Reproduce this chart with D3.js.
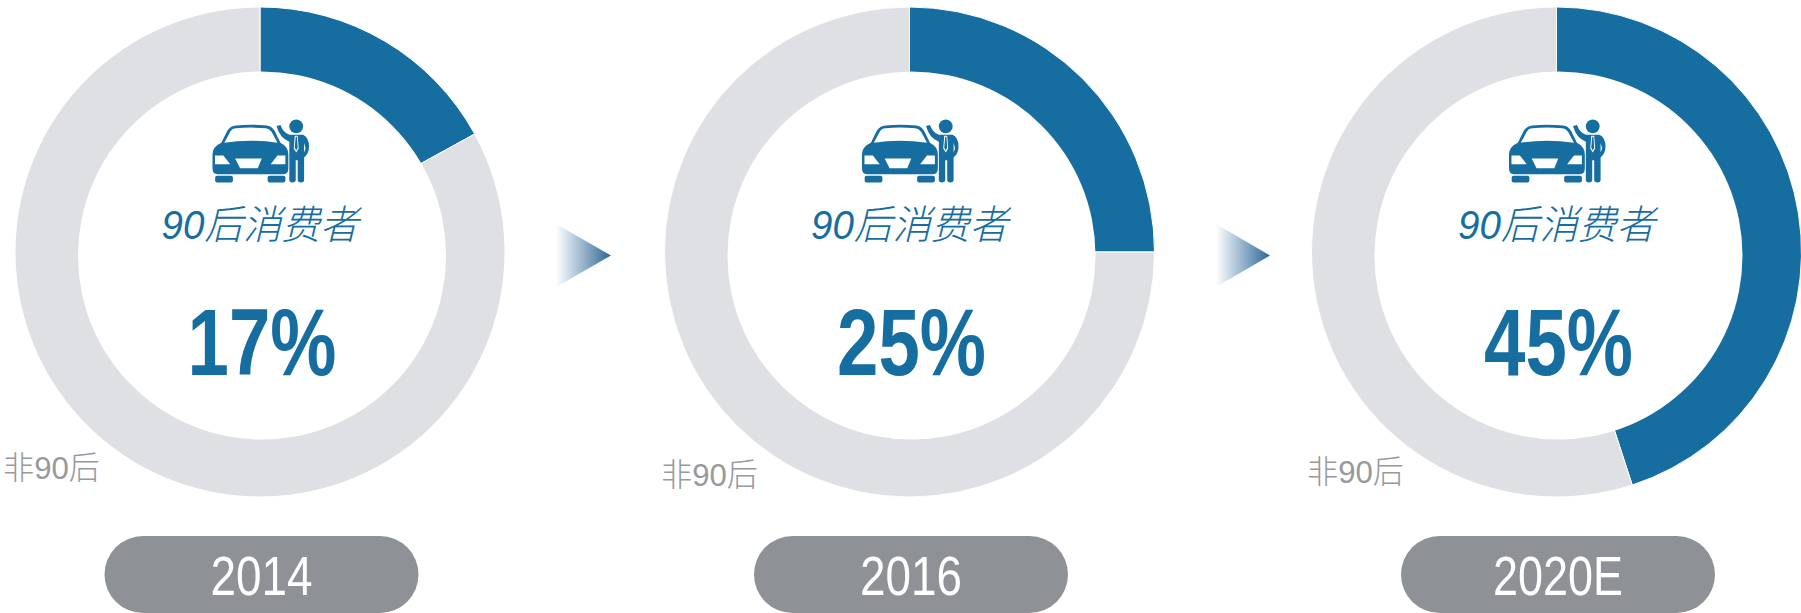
<!DOCTYPE html>
<html><head><meta charset="utf-8">
<script src="https://cdn.jsdelivr.net/npm/d3@7"></script>
<style>html,body{margin:0;padding:0;background:#fff}svg{display:block}
text{font-family:"Liberation Sans","Noto Sans CJK SC",sans-serif}</style></head>
<body><svg id="c" width="1801" height="613"></svg>
<script>
const years=["2014","2016","2020E"];
const shares=[17,25,45];
const centerLabel="90后消费者";
const otherLabel="非90后";
const segmentNames=["90后","非90后"];
const blue="#156da0",grey="#dfe0e4",pill="#8e9297",greyText="#96999e";
const centerX=[260,909.5,1556.5], otherX=[3,661,1307], otherY=[479,486,483], centerY=252;
const innerOffset=[2,3.5];
const svg=d3.select("#c");
const defs=svg.append("defs");
const g0=defs.append("linearGradient").attr("id","arrow");
g0.append("stop").attr("offset",0).attr("stop-color","#fff");
g0.append("stop").attr("offset",1).attr("stop-color","#2b6797");

const sym=defs.append("symbol").attr("id","icon").attr("viewBox","0 0 100 66").attr("overflow","visible");
const car=sym.append("g").attr("fill",blue);
car.append("path").attr("fill-rule","evenodd").attr("d","M9 24 L15 12 Q18 7 24 6.500 Q38 5 55 6.500 Q60 7 63 12 L69 24 Q77 28 77 36 L77 50 Q77 56 72 56 L5 56 Q0 56 0 50 L0 36 Q0 28 9 24 Z M12 24 Q38 20 66 24 L60 13 Q57 9.500 54 9.500 Q38 8 24 9.500 Q20 9.500 18 13 Z M2.500 37 L2.500 46 L18 46 L11 37 Z M74 37 L74 46 L59 46 L66 37 Z M23 40 L50 40 L46 50 L28 50 Z");
car.append("rect").attr("x",2.700).attr("y",57.500).attr("width",18).attr("height",7).attr("rx",2);
car.append("rect").attr("x",56).attr("y",57.500).attr("width",18).attr("height",7).attr("rx",2);
const man=sym.append("g").attr("fill",blue);
man.append("circle").attr("cx",85).attr("cy",7.500).attr("r",7);
man.append("path").attr("d","M65 7 L69 6 Q72 14 78 16 L92 16 Q98 19 98 28 Q98 35 93 39 L93 62 Q93 64.500 90 64.500 Q86.500 64.500 86.500 62 L86.500 42 L84.500 42 L84.500 62 Q84.500 64.500 81 64.500 Q78 64.500 78 62 L78 23 Q68 19 65 7 Z");
man.append("path").attr("fill","#fff").attr("d","M83.500 17 L86.500 17 L87.500 30 L85 34 L82.500 30 Z M93 24 L94.500 30 L93 34 Z");
man.append("path").attr("d","M84.500 18 L85.700 18 L86.500 29 L85 32 L83.500 29 Z");

const pie=d3.pie().sort(null).startAngle(0).endAngle(2*Math.PI);
const arc=d3.arc().innerRadius(120).outerRadius(245);
years.forEach((y,i)=>{
  const g=svg.append("g").attr("transform",`translate(${centerX[i]},${centerY})`);
  const parts=[shares[i],100-shares[i]];
  g.selectAll("path").data(pie(parts)).join("path")
    .attr("d",arc).attr("fill",(d,k)=>k?grey:blue).attr("stroke","#fff").attr("stroke-width",1)
    .append("title").text((d,k)=>segmentNames[k]);
  g.append("circle").attr("cx",innerOffset[0]).attr("cy",innerOffset[1]).attr("r",184).attr("fill","#fff");
  g.append("use").attr("href","#icon").attr("x",-47.500).attr("y",-133).attr("width",98.500).attr("height",65);
  g.append("text").attr("x",0).attr("y",-13).attr("text-anchor","middle").attr("font-size",40).attr("font-style","italic").attr("font-weight",300).attr("fill",blue).attr("textLength",197).attr("lengthAdjust","spacingAndGlyphs").text(centerLabel);
  g.append("text").attr("x",2).attr("y",122.500).attr("text-anchor","middle").attr("font-size",95).attr("font-weight",700).attr("fill",blue).attr("textLength",149).attr("lengthAdjust","spacingAndGlyphs").text(shares[i]+"%");
  svg.append("text").attr("x",otherX[i]).attr("y",otherY[i]).attr("font-size",32).attr("font-weight",300).attr("fill",greyText).attr("textLength",97).attr("lengthAdjust","spacingAndGlyphs").text(otherLabel);
  const p=svg.append("g").attr("transform",`translate(${centerX[i]+1.500},574.500)`);
  p.append("rect").attr("x",-157).attr("y",-38.500).attr("width",314).attr("height",77).attr("rx",38.500).attr("fill",pill);
  p.append("text").attr("y",20).attr("text-anchor","middle").attr("font-size",55).attr("fill","#fff").attr("textLength",y.length>4?130:102).attr("lengthAdjust","spacingAndGlyphs").text(y);
});
const arrowLine=d3.line();
[[556,611,224,287],[1216,1270,224,287]].forEach(a=>{
  svg.append("path").attr("d",arrowLine([[a[0],a[2]],[a[1],(a[2]+a[3])/2],[a[0],a[3]]])+"Z").attr("fill","url(#arrow)");
});
</script></body></html>
